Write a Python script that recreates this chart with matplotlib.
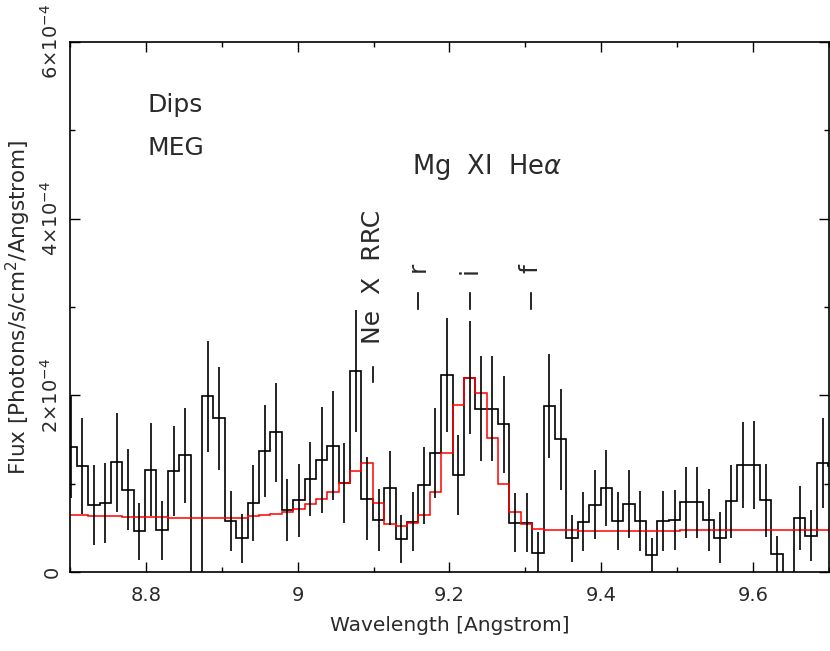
import numpy as np
import matplotlib
matplotlib.use("Agg")
import matplotlib.pyplot as plt
from matplotlib.ticker import FixedLocator, MultipleLocator

# ---- data (flux in units of 1e-4 photons/s/cm^2/Angstrom) ----
bin_start = 8.694
bin_width = 0.015
flux = [1.42, 1.20, 0.76, 0.78, 1.24, 0.93, 0.46, 1.16, 0.47, 1.14,
        1.32, -0.10, 1.99, 1.74, 0.58, 0.38, 0.78, 1.37, 1.58, 0.70,
        0.81, 1.05, 1.27, 1.43, 1.01, 2.28, 0.83, 0.59, 0.95, 0.37,
        0.57, 0.98, 1.35, 2.23, 1.10, 2.20, 1.85, 1.85, 1.67, 0.56,
        0.56, 0.22, 1.88, 1.50, 0.38, 0.57, 0.76, 0.95, 0.58, 0.77,
        0.58, 0.19, 0.58, 0.59, 0.79, 0.79, 0.59, 0.39, 0.80, 1.21,
        1.21, 0.81, 0.20, -0.10, 0.61, 0.41, 1.23, 1.20]
flux_err = [0.58, 0.54, 0.45, 0.45, 0.56, 0.46, 0.32, 0.53, 0.33, 0.51,
            0.54, 0.10, 0.63, 0.58, 0.34, 0.28, 0.43, 0.52, 0.56, 0.35,
            0.41, 0.42, 0.60, 0.62, 0.45, 0.69, 0.47, 0.35, 0.42, 0.27,
            0.33, 0.44, 0.51, 0.65, 0.45, 0.64, 0.59, 0.59, 0.55, 0.33,
            0.33, 0.23, 0.59, 0.57, 0.27, 0.33, 0.39, 0.43, 0.33, 0.39,
            0.34, 0.20, 0.34, 0.34, 0.40, 0.40, 0.35, 0.29, 0.41, 0.49,
            0.50, 0.41, 0.21, 0.10, 0.36, 0.29, 0.51, 0.50]
model = [0.64, 0.64, 0.63, 0.63, 0.63, 0.62, 0.62, 0.62, 0.62, 0.61,
         0.61, 0.61, 0.61, 0.61, 0.61, 0.61, 0.63, 0.64, 0.66, 0.68,
         0.71, 0.77, 0.83, 0.90, 1.01, 1.14, 1.23, 0.78, 0.54, 0.52,
         0.56, 0.65, 0.90, 1.35, 1.89, 2.20, 2.03, 1.52, 1.00, 0.68,
         0.54, 0.49, 0.48, 0.47, 0.47, 0.46, 0.46, 0.46, 0.46, 0.46,
         0.46, 0.46, 0.46, 0.46, 0.47, 0.48, 0.48, 0.48, 0.48, 0.48,
         0.48, 0.48, 0.48, 0.48, 0.48, 0.47, 0.47, 0.47]
scale = 1e-4

line_names = ['Ne  X  RRC', 'r', 'i', 'f']
line_waves = [9.099, 9.158, 9.227, 9.307]
line_label_y = [3.34, 3.45, 3.41, 3.43]
line_tick_lo = [2.15, 2.98, 2.98, 2.98]
line_tick_hi = [2.32, 3.16, 3.16, 3.16]

xticks = [8.8, 9.0, 9.2, 9.4, 9.6]
xticklabels = ['8.8', '9', '9.2', '9.4', '9.6']
yticks = [0, 2, 4, 6]
yticklabels = ['0', r'2$\times$10$^{-4}$', r'4$\times$10$^{-4}$', r'6$\times$10$^{-4}$']

# ---- plot ----
plt.rcParams['font.family'] = ['DejaVu Sans']
plt.rcParams['mathtext.fontset'] = 'dejavusans'
fig = plt.figure(figsize=(8.30, 6.51), dpi=100)
ax = fig.add_axes([0.0843, 0.1214, 0.9145, 0.8141])

n = len(flux)
edges = bin_start + bin_width * np.arange(n + 1)
centers = 0.5 * (edges[:-1] + edges[1:])
f = np.array(flux) * scale
fe = np.array(flux_err) * scale
m = np.array(model) * scale

ax.stairs(f, edges, color='black', lw=1.2, baseline=None)
ax.errorbar(centers, f, yerr=fe, fmt='none', ecolor='black', elinewidth=1.2, capsize=0)
ax.stairs(m, edges, color='red', lw=1.1, baseline=None)

ax.set_xlim(8.7, 9.7)
ax.set_ylim(0, 6e-4)

ax.xaxis.set_major_locator(FixedLocator(xticks))
ax.set_xticklabels(xticklabels)
ax.xaxis.set_minor_locator(MultipleLocator(0.1))
ax.yaxis.set_major_locator(FixedLocator([v * scale for v in yticks]))
ax.set_yticklabels(yticklabels, rotation=90, va='center')
ax.yaxis.set_minor_locator(MultipleLocator(1e-4))

txtc = '#2a2a2a'
ax.tick_params(which='both', direction='in', top=True, right=True, colors='black',
               labelsize=14, labelcolor=txtc)
ax.tick_params(which='major', length=7.2, width=1.0)
ax.tick_params(which='minor', length=3.6, width=1.0)
ax.tick_params(axis='x', pad=10)
ax.tick_params(axis='y', pad=6)
for s in ax.spines.values():
    s.set_linewidth(1.2)

ax.set_xlabel('Wavelength [Angstrom]', fontsize=14.5, color=txtc, labelpad=8)
ax.set_ylabel(r'Flux [Photons/s/cm$^2$/Angstrom]', fontsize=15.5, color=txtc, labelpad=5)

ax.text(8.8015, 5.29 * scale, 'Dips', fontsize=18, color=txtc, ha='left', va='center')
ax.text(8.8015, 4.80 * scale, 'MEG', fontsize=18, color=txtc, ha='left', va='center')
ax.text(9.1506, 4.585 * scale, r'Mg  XI  He$\alpha$', fontsize=18.5, color=txtc, ha='left', va='center')

for name, w, ly, lo, hi in zip(line_names, line_waves, line_label_y, line_tick_lo, line_tick_hi):
    ax.text(w, ly * scale, name, fontsize=18, color=txtc, rotation=90, ha='center', va='center')
    ax.plot([w, w], [lo * scale, hi * scale], color='black', lw=1.2)

fig.savefig('out.png', dpi=100)
